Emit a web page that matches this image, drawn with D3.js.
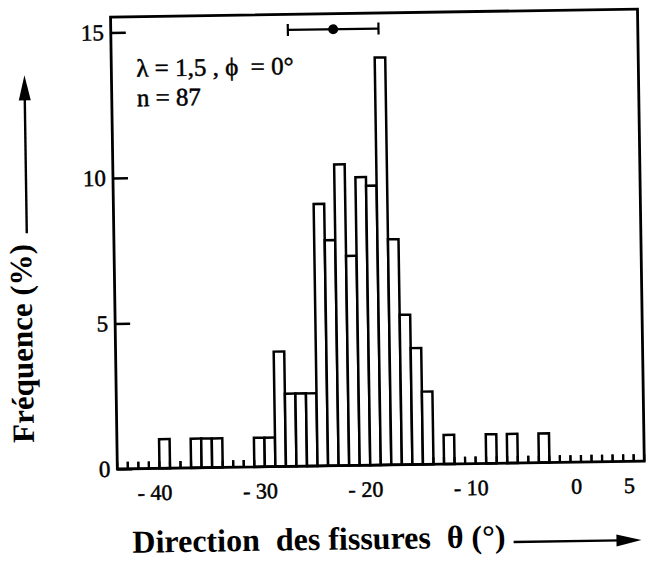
<!DOCTYPE html>
<html>
<head>
<meta charset="utf-8">
<script src="https://cdn.jsdelivr.net/npm/d3@7/dist/d3.min.js"></script>
<style>
  body { margin: 0; background: #fff; }
  svg { display: block; }
  text { font-family: "Liberation Serif", "DejaVu Serif", serif; fill: #000; }
</style>
</head>
<body>
<div class="chart"></div>
<script>
// Histogram of crack directions (scanned figure)
// bin centres, in degrees (1 degree wide)
var binCenters = [-43, -42, -41, -40, -39, -38, -37, -36, -35, -34,
  -33, -32, -31, -30, -29, -28, -27, -26, -25, -24,
  -23, -22, -21, -20, -19, -18, -17, -16, -15, -14,
  -13, -12, -11, -10, -9, -8, -7, -6, -5, -4,
  -3, -2, -1, 0, 1, 2, 3, 4, 5, 6];
// frequency (%) per bin
var freq = [0, 0, 0, 0, 1.0, 0, 0, 1.0, 1.0, 1.0,
  0, 0, 0, 1.0, 1.0, 3.95, 2.5, 2.5, 2.5, 9.0,
  7.75, 10.35, 7.2, 9.9, 9.6, 14.0, 7.75, 5.15, 4.0, 2.5,
  0, 1.0, 0, 0, 0, 1.0, 0, 1.0, 0, 0,
  1.0, 0, 0, 0, 0, 0, 0, 0, 0, 0];
var xTicks = [-40, -30, -20, -10, 0, 5];
var yTicks = [0, 5, 10, 15];
// mean direction and spread (marker at the top)
var meanDir = -22.4;
var spreadDir = [-26.7, -18.1];
var annot = ["\u03bb = 1,5 , \u03d5  = 0\u00b0", "n = 87"];

var serif = "'Liberation Serif', 'Times New Roman', serif";
var svgWidth = 650;
var svgHeight = 566;
var plot = { left: 114, right: 641, top: 13, bottom: 465 };

var svg = d3.select(".chart")
  .append("svg")
  .attr("width", svgWidth)
  .attr("height", svgHeight);

svg.append("rect")
  .attr("width", svgWidth)
  .attr("height", svgHeight)
  .attr("fill", "#fff");

// the scan is slightly tilted
var g = svg.append("g")
  .attr("transform", "rotate(-0.86, 380, 245)");

var xScale = d3.scaleLinear()
  .domain([-43.5, 6.5])
  .range([plot.left, plot.right]);
var yScale = d3.scaleLinear()
  .domain([0, 15.53])
  .range([plot.bottom, plot.top]);

var bins = binCenters.map(function(d, i) {
  return { center: d, value: freq[i] };
});

// bars
g.selectAll("rect.bar")
  .data(bins.filter(function(d) { return d.value > 0; }))
  .enter().append("rect")
  .attr("class", "bar")
  .attr("x", function(d) { return xScale(d.center - 0.5); })
  .attr("width", function(d) { return xScale(d.center + 0.5) - xScale(d.center - 0.5); })
  .attr("y", function(d) { return yScale(d.value); })
  .attr("height", function(d) { return yScale(0) - yScale(d.value); })
  .attr("fill", "#fff")
  .attr("stroke", "#000")
  .attr("stroke-width", 2.5);

// empty bins are drawn as short stubs
var stubH = 7;
g.selectAll("path.stub")
  .data(bins.filter(function(d) { return d.value === 0; }))
  .enter().append("path")
  .attr("class", "stub")
  .attr("d", function(d) {
    var x0 = xScale(d.center - 0.5), x1 = xScale(d.center + 0.5), y0 = yScale(0);
    return "M" + x0 + "," + y0 + "V" + (y0 - stubH) + "M" + x1 + "," + y0 + "V" + (y0 - stubH);
  })
  .attr("stroke", "#000")
  .attr("stroke-width", 2.2);

// frame
g.append("rect")
  .attr("x", plot.left)
  .attr("y", plot.top)
  .attr("width", plot.right - plot.left)
  .attr("height", plot.bottom - plot.top)
  .attr("fill", "none")
  .attr("stroke", "#000")
  .attr("stroke-width", 2.8);

// y axis, ticks pointing inward
var leftAxis = d3.axisLeft(yScale)
  .tickValues(yTicks)
  .tickSize(-15)
  .tickPadding(7);
var yAx = g.append("g")
  .attr("transform", "translate(" + plot.left + ",0)")
  .call(leftAxis)
  .attr("font-family", null);
yAx.select(".domain").remove();
yAx.selectAll(".tick line").attr("stroke", "#000").attr("stroke-width", 2.4);
yAx.selectAll(".tick text")
  .style("font-family", serif)
  .style("font-size", "23px")
  .attr("fill", "#000")
  .attr("stroke", "#000")
  .attr("stroke-width", 0.5);

// x axis, labels only
var bottomAxis = d3.axisBottom(xScale)
  .tickValues(xTicks)
  .tickSize(0)
  .tickPadding(16)
  .tickFormat(function(d) { return d < 0 ? "- " + Math.abs(d) : String(d); });
var xAx = g.append("g")
  .attr("transform", "translate(0," + plot.bottom + ")")
  .call(bottomAxis)
  .attr("font-family", null);
xAx.select(".domain").remove();
xAx.selectAll(".tick text")
  .style("font-family", serif)
  .style("font-size", "22px")
  .attr("fill", "#000")
  .attr("stroke", "#000")
  .attr("stroke-width", 0.5)
  .style("white-space", "pre");

// mean marker with spread bar
var my = 28.6;
g.append("line")
  .attr("x1", xScale(spreadDir[0]))
  .attr("x2", xScale(spreadDir[1]))
  .attr("y1", my).attr("y2", my)
  .attr("stroke", "#000").attr("stroke-width", 2.2);
g.selectAll("line.cap")
  .data(spreadDir)
  .enter().append("line")
  .attr("class", "cap")
  .attr("x1", function(d) { return xScale(d); })
  .attr("x2", function(d) { return xScale(d); })
  .attr("y1", my - 6).attr("y2", my + 6)
  .attr("stroke", "#000").attr("stroke-width", 2.2);
g.append("circle")
  .attr("cx", xScale(meanDir))
  .attr("cy", my)
  .attr("r", 5)
  .attr("fill", "#000");

// parameters
g.selectAll("text.annot")
  .data(annot)
  .enter().append("text")
  .attr("class", "annot")
  .attr("x", 139)
  .attr("y", function(d, i) { return 73 + i * 29.5; })
  .style("font-family", serif)
  .style("font-size", "25px")
  .attr("stroke", "#000")
  .attr("stroke-width", 0.5)
  .style("white-space", "pre")
  .text(function(d) { return d; });

// y label with arrow
g.append("text")
  .attr("transform", "translate(31,338) rotate(-90)")
  .attr("text-anchor", "middle")
  .style("font-family", serif)
  .style("font-size", "31px")
  .style("font-weight", "bold")
  .text("Fréquence (%)");
g.append("line")
  .attr("x1", 27).attr("x2", 27)
  .attr("y1", 228).attr("y2", 90)
  .attr("stroke", "#000").attr("stroke-width", 2.4);
g.append("path")
  .attr("d", "M27,70L21,95L33,95Z")
  .attr("fill", "#000");

// x label with arrow
var xLab = g.append("text")
  .attr("x", 128)
  .attr("y", 549)
  .style("font-family", serif)
  .style("font-size", "32px")
  .style("font-weight", "bold")
  .style("white-space", "pre")
  .text("Direction  des fissures  \u03b8 (\u00b0)");
var labEnd = 128 + xLab.node().getComputedTextLength();
g.append("line")
  .attr("x1", labEnd + 8).attr("x2", 616)
  .attr("y1", 544).attr("y2", 544)
  .attr("stroke", "#000").attr("stroke-width", 2.4);
g.append("path")
  .attr("d", "M637,544L612,538L612,550Z")
  .attr("fill", "#000");
</script>
</body>
</html>
